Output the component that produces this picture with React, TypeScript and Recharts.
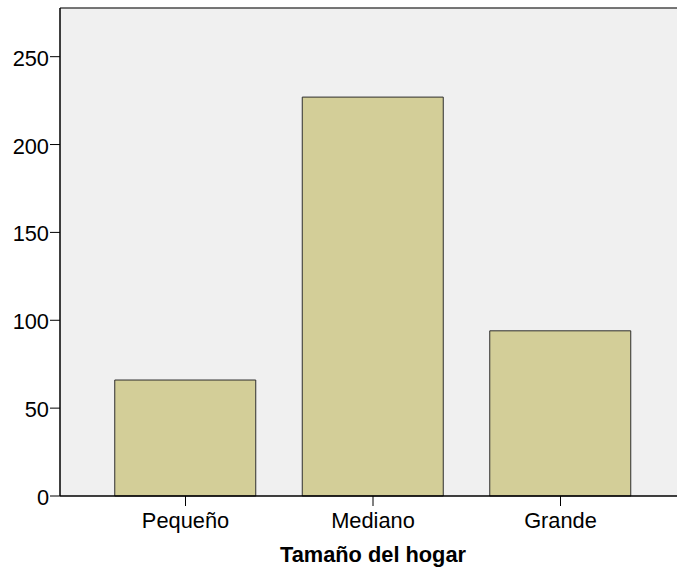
import React from "react";
import { BarChart, Bar, XAxis, YAxis, CartesianGrid, ReferenceLine } from "recharts";

const categories = ["Pequeño", "Mediano", "Grande"];
const counts = [66, 227, 94];
const yTicks = [0, 50, 100, 150, 200, 250];
const yMax = 277.7;
const xTitle = "Tamaño del hogar";

const data = categories.map((c, i) => ({ name: c, value: counts[i] }));

const FONT = "'Liberation Sans', Arial, sans-serif";

const YTick = (props: any) => {
  const { x, y, payload } = props;
  return (
    <text x={x} y={y} dy={9} textAnchor="end" fontSize={21.8} fontFamily={FONT} fill="#000">
      {payload.value}
    </text>
  );
};

const XTick = (props: any) => {
  const { x, y, payload } = props;
  return (
    <text x={x} y={y} dy={20} textAnchor="middle" fontSize={21.8} fontFamily={FONT} fill="#000">
      {payload.value}
    </text>
  );
};

export default function App() {
  return (
    <div style={{ position: "absolute", left: 0, top: 0, width: 677, height: 569, overflow: "hidden", background: "#fff" }}>
      <BarChart
        width={700}
        height={569}
        data={data}
        margin={{ top: 8, right: 14, left: 0, bottom: 0 }}
      >
        <CartesianGrid horizontal={false} vertical={false} fill="#F0F0F0" />
        <ReferenceLine y={yMax} stroke="#4a4a4a" strokeWidth={1.5} ifOverflow="extendDomain" />
        <XAxis
          dataKey="name"
          height={73}
          padding={{ left: 31.75, right: 31.75 }}
          tickSize={10}
          tickLine={{ stroke: "#000" }}
          axisLine={{ stroke: "#000", strokeWidth: 1.5 }}
          tick={<XTick />}
          interval={0}
          label={{
            value: xTitle,
            position: "insideBottom",
            offset: 7,
            style: { fontFamily: FONT, fontSize: 21.8, fontWeight: "bold", fill: "#000" },
          }}
        />
        <YAxis
          width={60}
          domain={[0, yMax]}
          ticks={yTicks}
          tickSize={10}
          tickMargin={1}
          tickLine={{ stroke: "#000" }}
          axisLine={{ stroke: "#000", strokeWidth: 1.5 }}
          tick={<YTick />}
        />
        <Bar
          dataKey="value"
          fill="#D3CE98"
          stroke="#2e2e2e"
          strokeWidth={1}
          barSize={141}
          isAnimationActive={false}
        />
      </BarChart>
    </div>
  );
}
